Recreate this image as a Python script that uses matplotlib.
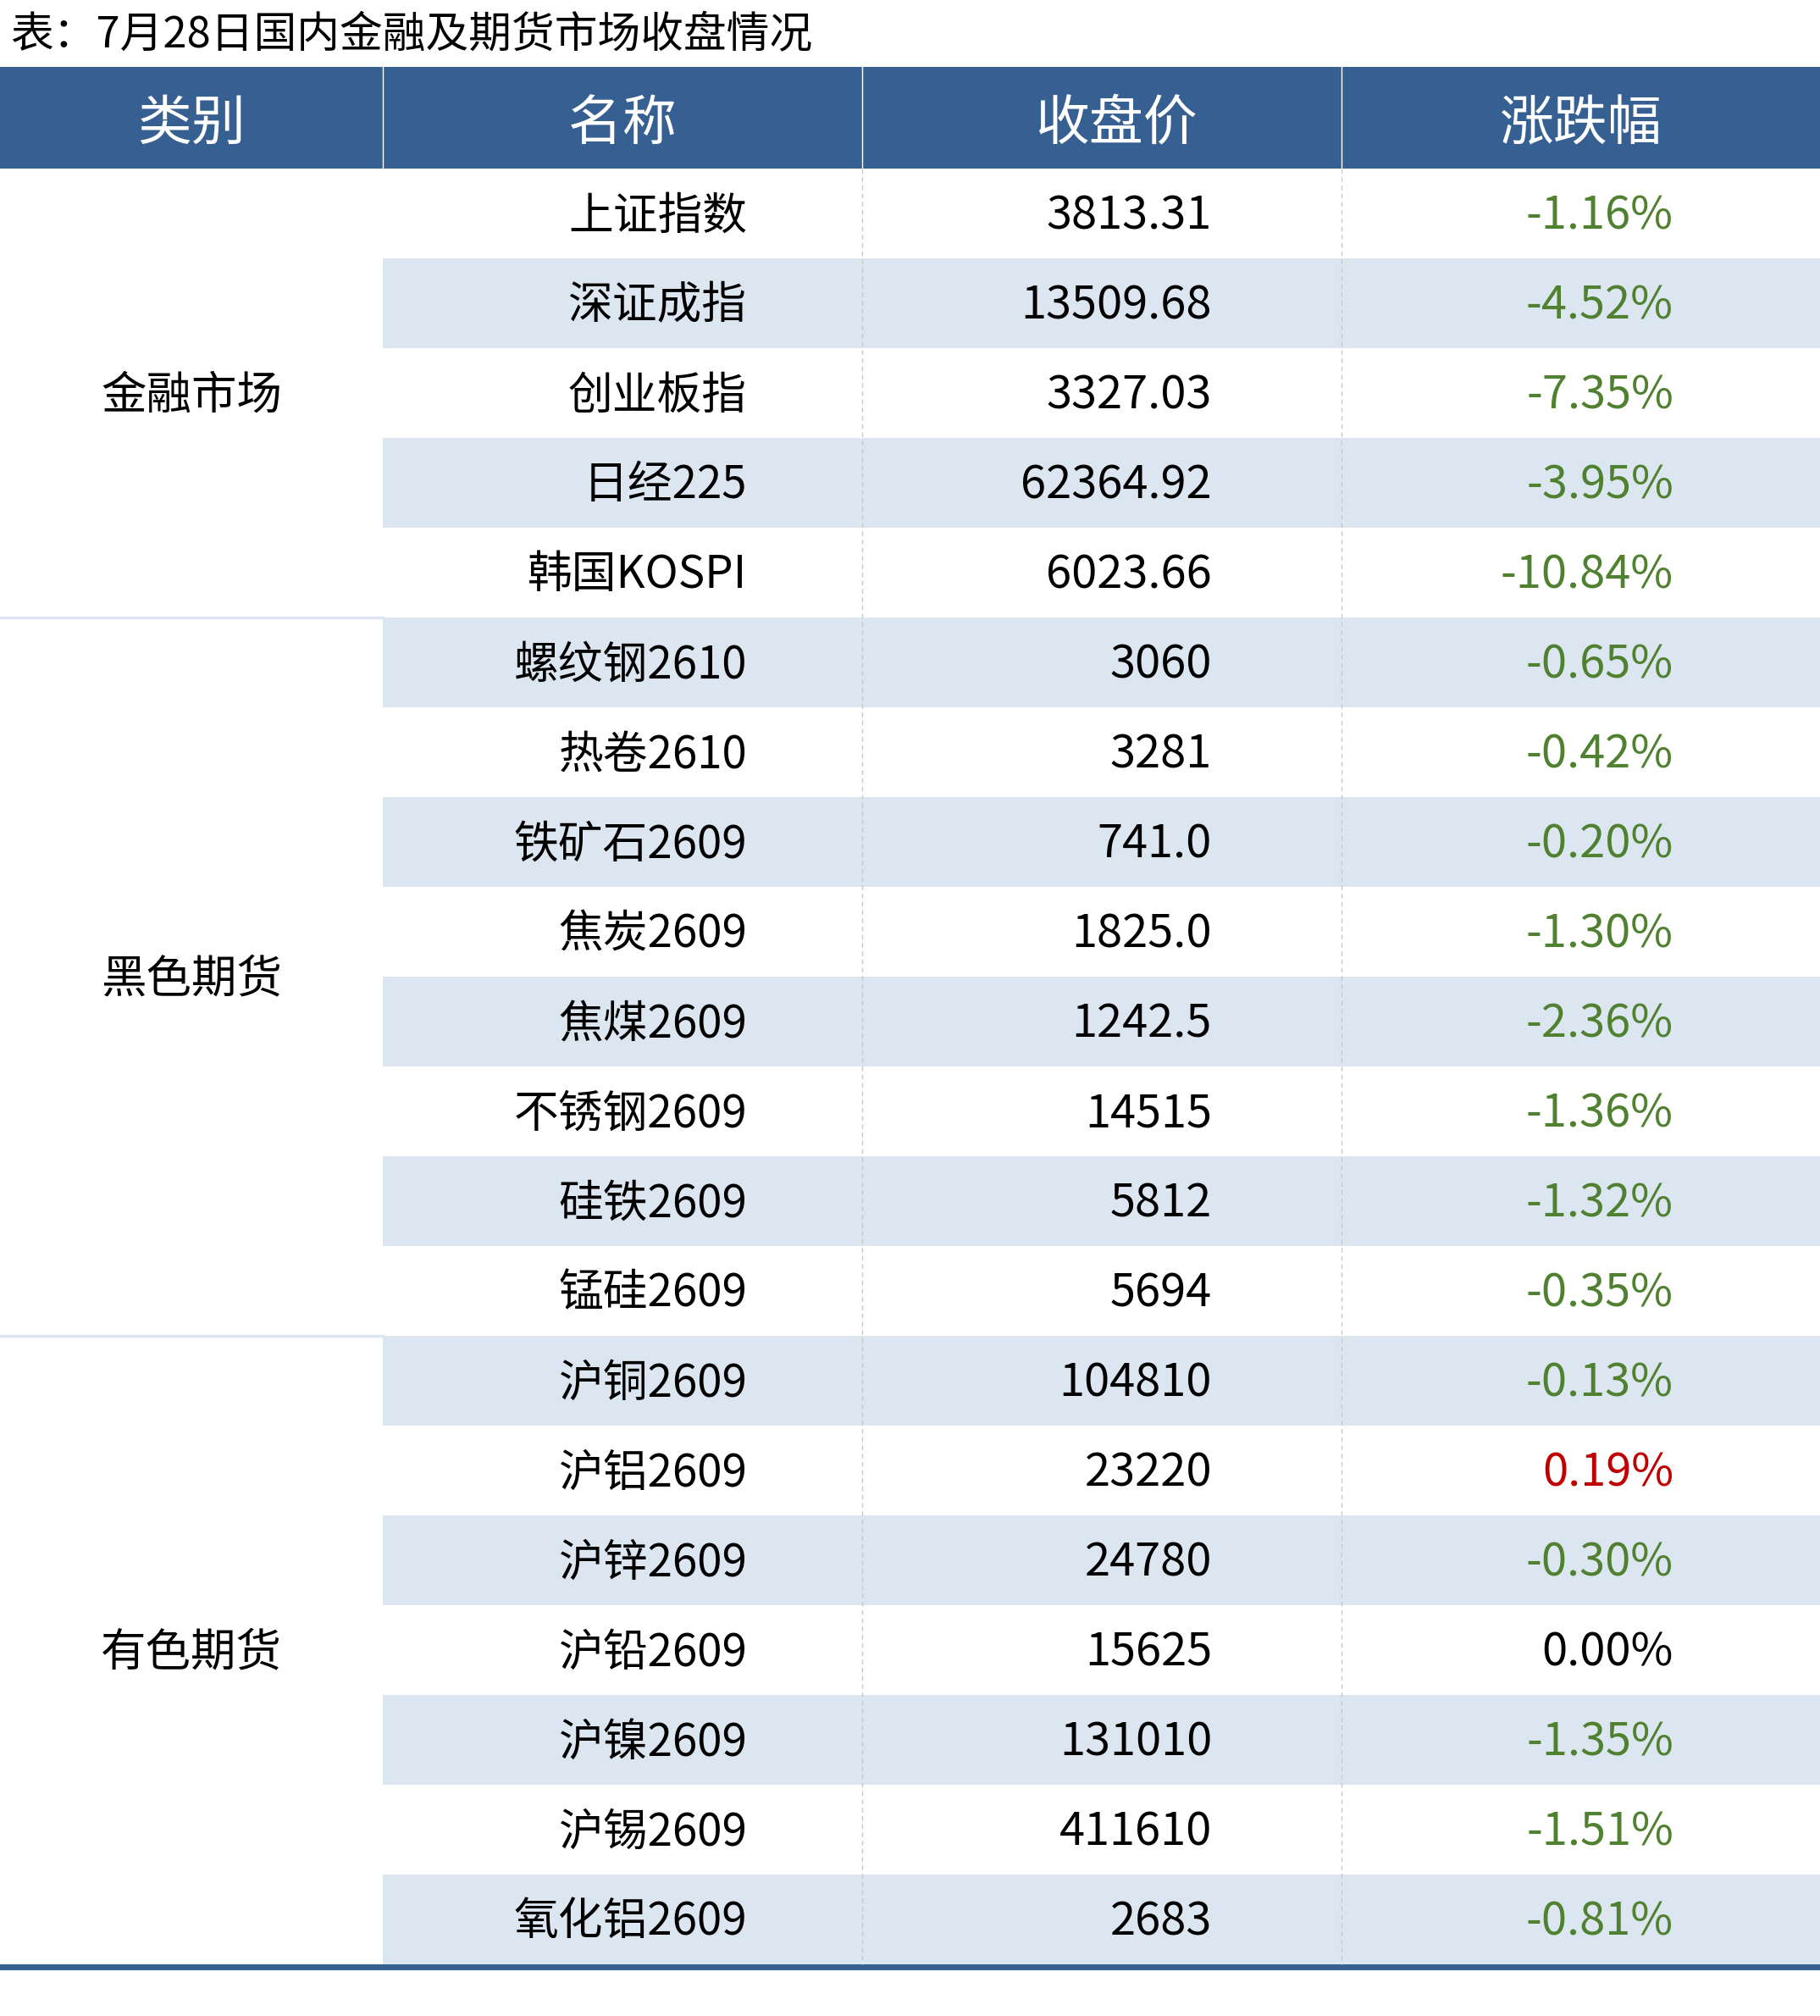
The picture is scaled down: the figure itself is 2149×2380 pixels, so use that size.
import matplotlib.pyplot as plt
from matplotlib.patches import Rectangle

plt.rcParams['font.family'] = ['Noto Sans CJK SC', 'DejaVu Sans']

title = '表：7月28日国内金融及期货市场收盘情况'
headers = ['类别', '名称', '收盘价', '涨跌幅']

groups = ['金融市场', '黑色期货', '有色期货']
group_sizes = [5, 8, 7]

names = ['上证指数', '深证成指', '创业板指', '日经225', '韩国KOSPI',
         '螺纹钢2610', '热卷2610', '铁矿石2609', '焦炭2609', '焦煤2609',
         '不锈钢2609', '硅铁2609', '锰硅2609',
         '沪铜2609', '沪铝2609', '沪锌2609', '沪铅2609', '沪镍2609',
         '沪锡2609', '氧化铝2609']
prices = ['3813.31', '13509.68', '3327.03', '62364.92', '6023.66',
          '3060', '3281', '741.0', '1825.0', '1242.5',
          '14515', '5812', '5694',
          '104810', '23220', '24780', '15625', '131010',
          '411610', '2683']
changes = [-1.16, -4.52, -7.35, -3.95, -10.84,
           -0.65, -0.42, -0.20, -1.30, -2.36,
           -1.36, -1.32, -0.35,
           -0.13, 0.19, -0.30, 0.00, -1.35,
           -1.51, -0.81]

W, H = 2149, 2380
blue = '#376092'
shade = '#DCE6F1'
green = '#4F8131'
red = '#C00000'

col_x = [0, 452, 1018, 1584, 2149]
head_shift = [0, 0, 17, 0]
head_top, head_bot = 79, 199
row_h = 106

fig = plt.figure(figsize=(W / 100, H / 100), dpi=100)
ax = fig.add_axes([0, 0, 1, 1])
ax.set_xlim(0, W)
ax.set_ylim(H, 0)
ax.axis('off')

ax.text(12, 42, title, fontsize=36.5, fontweight='medium', va='center', ha='left')

# header
ax.add_patch(Rectangle((0, head_top), W, head_bot - head_top, color=blue, lw=0))
for i, h in enumerate(headers):
    cx = (col_x[i] + col_x[i + 1]) / 2 + head_shift[i]
    ax.text(cx, (head_top + head_bot) / 2 + 8, h, color='white', fontsize=46,
            fontweight='light', ha='center', va='center')
for x in col_x[1:-1]:
    ax.plot([x, x], [head_top, head_bot], color='white', lw=1)

# rows
for r in range(len(names)):
    y0 = head_bot + r * row_h
    yc = y0 + row_h / 2 + 3
    if r % 2 == 1:
        ax.add_patch(Rectangle((col_x[1], y0), W - col_x[1], row_h, color=shade, lw=0))
    ax.text(882, yc, names[r], fontsize=38, fontweight='medium', ha='right', va='center')
    ax.text(1431, yc, prices[r], fontsize=39, fontweight='medium', ha='right', va='center')
    c = changes[r]
    color = green if c < 0 else (red if c > 0 else 'black')
    ax.text(1976, yc, f'{c:.2f}%', fontsize=39, color=color, ha='right', va='center')

# dashed column separators
body_bot = head_bot + len(names) * row_h
for x in col_x[2:4]:
    ax.plot([x, x], [head_bot, body_bot], color='#C8C8C8', lw=1, ls=(0, (4, 3)))

# groups
start = 0
for g, n in zip(groups, group_sizes):
    y0 = head_bot + start * row_h
    y1 = y0 + n * row_h
    ax.text((col_x[0] + col_x[1]) / 2, (y0 + y1) / 2 + 3, g, fontsize=38.5,
            fontweight='medium', ha='center', va='center')
    if start > 0:
        ax.plot([0, col_x[1]], [y0, y0], color=shade, lw=2.5)
    start += n

ax.add_patch(Rectangle((0, body_bot), W, 7, color=blue, lw=0))

fig.savefig('out.png', dpi=100)
